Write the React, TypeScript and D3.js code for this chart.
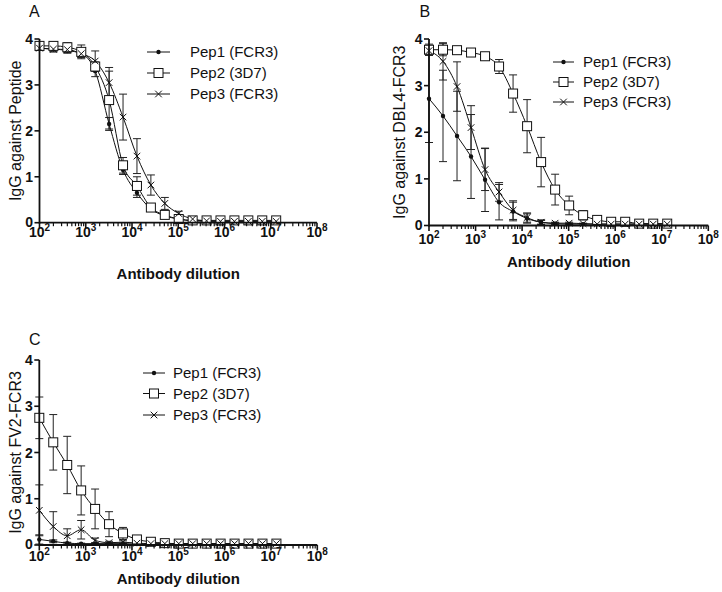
import React from "react";
import * as d3 from "d3";

// ---------- DATA ----------
const dilutions = [100, 200, 400, 800, 1600, 3200, 6400, 12800, 25600, 51200, 102400, 204800, 409600, 819200, 1638400, 3276800, 6553600, 13107200];
const seriesNames = ["Pep1 (FCR3)", "Pep2 (3D7)", "Pep3 (FCR3)"];
const xTickExps = [2, 3, 4, 5, 6, 7, 8];
const yTicks = [0, 1, 2, 3, 4];

// Panel A: IgG against Peptide
const pep1A = [3.80, 3.78, 3.75, 3.68, 3.30, 2.15, 1.15, 0.65, 0.30, 0.15, 0.08, 0.04, 0.03, 0.03, 0.03, 0.03, 0.03, 0.03];
const pep1A_sd = [0.05, 0.06, 0.06, 0.08, 0.12, 0.14, 0.10, 0.10, 0.05, 0.03, 0.02, 0.01, 0, 0, 0, 0, 0, 0];
const pep2A = [3.85, 3.85, 3.82, 3.72, 3.40, 2.67, 1.25, 0.80, 0.33, 0.17, 0.08, 0.05, 0.05, 0.05, 0.05, 0.05, 0.05, 0.05];
const pep2A_sd = [0.08, 0.08, 0.10, 0.15, 0.10, 0.63, 0.17, 0.20, 0.06, 0.04, 0.02, 0.01, 0, 0, 0, 0, 0, 0];
const pep3A = [3.80, 3.78, 3.77, 3.68, 3.52, 3.05, 2.30, 1.45, 0.82, 0.42, 0.20, 0.08, 0.04, 0.03, 0.03, 0.03, 0.03, 0.03];
const pep3A_sd = [0.05, 0.06, 0.06, 0.08, 0.22, 0.33, 0.50, 0.38, 0.22, 0.13, 0.05, 0.02, 0.01, 0, 0, 0, 0, 0];

// Panel B: IgG against DBL4-FCR3
const pep1B = [2.72, 2.35, 1.92, 1.48, 0.98, 0.50, 0.30, 0.15, 0.07, 0.04, 0.03, 0.03, 0.03, 0.03, 0.03, 0.03, 0.03, 0.03];
const pep1B_sd = [0.94, 0.98, 0.96, 0.90, 0.68, 0.38, 0.20, 0.10, 0.04, 0.02, 0.01, 0, 0, 0, 0, 0, 0, 0];
const pep2B = [3.77, 3.77, 3.76, 3.71, 3.63, 3.41, 2.83, 2.13, 1.36, 0.77, 0.43, 0.22, 0.12, 0.08, 0.08, 0.04, 0.04, 0.04];
const pep2B_sd = [0.12, 0.13, 0.05, 0.05, 0.05, 0.15, 0.40, 0.57, 0.53, 0.33, 0.20, 0.10, 0.05, 0.03, 0.03, 0.02, 0.02, 0.02];
const pep3B = [3.75, 3.52, 2.98, 2.10, 1.20, 0.72, 0.33, 0.17, 0.07, 0.05, 0.05, 0.04, 0.03, 0.03, 0.03, 0.03, 0.03, 0.03];
const pep3B_sd = [0.10, 0.40, 0.53, 0.47, 0.45, 0.20, 0.20, 0.10, 0.05, 0.02, 0.02, 0.01, 0, 0, 0, 0, 0, 0];

// Panel C: IgG against FV2-FCR3
const pep1C = [0.12, 0.08, 0.04, 0.03, 0.03, 0.03, 0.03, 0.02, 0.02, 0.02, 0.02, 0.02, 0.02, 0.02, 0.02, 0.02, 0.02, 0.02];
const pep1C_sd = [0.10, 0.03, 0.02, 0.01, 0.01, 0.01, 0.01, 0, 0, 0, 0, 0, 0, 0, 0, 0, 0, 0];
const pep2C = [2.75, 2.22, 1.73, 1.18, 0.78, 0.45, 0.25, 0.12, 0.07, 0.04, 0.03, 0.03, 0.03, 0.03, 0.03, 0.03, 0.03, 0.03];
const pep2C_sd = [0.45, 0.60, 0.62, 0.53, 0.43, 0.27, 0.13, 0.05, 0.02, 0.01, 0, 0, 0, 0, 0, 0, 0, 0];
const pep3C = [0.75, 0.40, 0.20, 0.33, 0.10, 0.05, 0.06, 0.04, 0.03, 0.03, 0.03, 0.03, 0.03, 0.03, 0.03, 0.03, 0.03, 0.03];
const pep3C_sd = [0.55, 0.32, 0.15, 0.20, 0.05, 0.03, 0.03, 0.01, 0, 0, 0, 0, 0, 0, 0, 0, 0, 0];

// ---------- LAYOUT ----------
const FONT = "'Liberation Sans', Arial, Helvetica, sans-serif";
const INK = "#111";

type Panel = {
  letter: string;
  ylabel: string;
  xr: [number, number];
  yr: [number, number];
  letterPos: [number, number];
  yLabelX: number;
  tickBase: number;
  xTitleBase: number;
  legend: { lx0: number; lx1: number; tx: number; ys: number[] };
  series: { v: number[]; sd: number[] }[];
};

const panels: Panel[] = [
  {
    letter: "A",
    ylabel: "IgG against Peptide",
    xr: [39.5, 317],
    yr: [222.7, 39],
    letterPos: [29, 17],
    yLabelX: 20.5,
    tickBase: 237,
    xTitleBase: 279,
    legend: { lx0: 147, lx1: 170, tx: 190, ys: [52, 73, 94] },
    series: [
      { v: pep1A, sd: pep1A_sd },
      { v: pep2A, sd: pep2A_sd },
      { v: pep3A, sd: pep3A_sd },
    ],
  },
  {
    letter: "B",
    ylabel: "IgG against DBL4-FCR3",
    xr: [429, 708.3],
    yr: [225.5, 39],
    letterPos: [419.5, 17],
    yLabelX: 405,
    tickBase: 244,
    xTitleBase: 267,
    legend: { lx0: 553, lx1: 574, tx: 583, ys: [62, 82, 102] },
    series: [
      { v: pep1B, sd: pep1B_sd },
      { v: pep2B, sd: pep2B_sd },
      { v: pep3B, sd: pep3B_sd },
    ],
  },
  {
    letter: "C",
    ylabel: "IgG against FV2-FCR3",
    xr: [39.3, 317.3],
    yr: [545, 360],
    letterPos: [29, 345],
    yLabelX: 20.5,
    tickBase: 561,
    xTitleBase: 584,
    legend: { lx0: 143, lx1: 165, tx: 173, ys: [373, 393.5, 415] },
    series: [
      { v: pep1C, sd: pep1C_sd },
      { v: pep2C, sd: pep2C_sd },
      { v: pep3C, sd: pep3C_sd },
    ],
  },
];

function Marker({ kind, x, y }: { kind: number; x: number; y: number }) {
  if (kind === 0) return <circle cx={x} cy={y} r={2.2} fill={INK} />;
  if (kind === 1)
    return <rect x={x - 4.5} y={y - 4.5} width={9} height={9} fill="#fff" stroke={INK} strokeWidth={1} />;
  const s = 3.3;
  return (
    <path d={`M${x - s},${y - s}L${x + s},${y + s}M${x - s},${y + s}L${x + s},${y - s}`} stroke={INK} strokeWidth={1} />
  );
}

function PanelView({ p }: { p: Panel }) {
  const x = d3.scaleLog().domain([1e2, 1e8]).range(p.xr);
  const y = d3.scaleLinear().domain([0, 4]).range(p.yr);
  const line = d3
    .line<number>()
    .x((_, i) => x(dilutions[i]))
    .y((d) => y(d))
    .curve(d3.curveMonotoneX);

  const minor: number[] = [];
  for (let e = 2; e < 8; e++) for (let m = 2; m <= 9; m++) minor.push(m * Math.pow(10, e));

  const xMid = (p.xr[0] + p.xr[1]) / 2;
  const yMid = (p.yr[0] + p.yr[1]) / 2;
  const cap = 4;

  return (
    <g fontFamily={FONT}>
      <text x={p.letterPos[0]} y={p.letterPos[1]} fontSize={16} fill={INK}>
        {p.letter}
      </text>

      {/* error bars */}
      {p.series.map((s, si) =>
        s.v.map((v, i) => {
          if (s.sd[i] <= 0) return null;
          const cx = x(dilutions[i]);
          const top = y(v + s.sd[i]);
          const bot = y(Math.max(0, v - s.sd[i]));
          return (
            <path
              key={`e${si}-${i}`}
              d={`M${cx},${top}L${cx},${bot}M${cx - cap},${top}L${cx + cap},${top}M${cx - cap},${bot}L${cx + cap},${bot}`}
              stroke="#222"
              strokeWidth={1}
              fill="none"
            />
          );
        })
      )}

      {/* curves */}
      {p.series.map((s, si) => (
        <path key={`l${si}`} d={line(s.v) || ""} fill="none" stroke={INK} strokeWidth={1} />
      ))}

      {/* markers */}
      {p.series.map((s, si) =>
        s.v.map((v, i) => <Marker key={`m${si}-${i}`} kind={si} x={x(dilutions[i])} y={y(v)} />)
      )}

      {/* axes */}
      <line x1={p.xr[0]} x2={p.xr[1]} y1={p.yr[0]} y2={p.yr[0]} stroke={INK} strokeWidth={1.8} />
      <line x1={p.xr[0]} x2={p.xr[0]} y1={p.yr[0] + 0.9} y2={p.yr[1]} stroke={INK} strokeWidth={1.8} />
      {minor.map((m) => (
        <line key={`mn${m}`} x1={x(m)} x2={x(m)} y1={p.yr[0]} y2={p.yr[0] + 3.5} stroke={INK} strokeWidth={1.2} />
      ))}
      {xTickExps.map((e) => {
        const tx = x(Math.pow(10, e));
        return (
          <g key={`xt${e}`}>
            <line x1={tx} x2={tx} y1={p.yr[0]} y2={p.yr[0] + 5.5} stroke={INK} strokeWidth={1.6} />
            <text x={tx} y={p.tickBase} textAnchor="middle" fontSize={14} fontWeight="bold" fill={INK}>
              10
              <tspan fontSize={10} dy={-6}>
                {e}
              </tspan>
            </text>
          </g>
        );
      })}
      {yTicks.map((t) => (
        <g key={`yt${t}`}>
          <line x1={p.xr[0] - 5} x2={p.xr[0]} y1={y(t)} y2={y(t)} stroke={INK} strokeWidth={1.6} />
          <text x={p.xr[0] - 6.5} y={y(t)} dy={t === 0 ? "0.3em" : "0.36em"} textAnchor="end" fontSize={14} fontWeight="bold" fill={INK}>
            {t}
          </text>
        </g>
      ))}

      {/* axis titles */}
      <text x={xMid} y={p.xTitleBase} textAnchor="middle" fontSize={15} fontWeight="bold" fill={INK}>
        Antibody dilution
      </text>
      <text
        transform={`translate(${p.yLabelX},${yMid}) rotate(-90)`}
        textAnchor="middle"
        fontSize={16}
        fill={INK}
      >
        {p.ylabel}
      </text>

      {/* legend */}
      {seriesNames.map((n, i) => {
        const ly = p.legend.ys[i];
        const lm = (p.legend.lx0 + p.legend.lx1) / 2;
        return (
          <g key={`lg${i}`}>
            <line x1={p.legend.lx0} x2={p.legend.lx1} y1={ly} y2={ly} stroke={INK} strokeWidth={1} />
            <Marker kind={i} x={lm} y={ly} />
            <text x={p.legend.tx} y={ly} dy="0.36em" fontSize={15} fill={INK}>
              {n}
            </text>
          </g>
        );
      })}
    </g>
  );
}

export default function App() {
  return (
    <svg
      width={722}
      height={592}
      viewBox="0 0 722 592"
      style={{ position: "absolute", left: 0, top: 0, background: "#fff" }}
    >
      <rect width={722} height={592} fill="#fff" />
      {panels.map((p) => (
        <PanelView key={p.letter} p={p} />
      ))}
    </svg>
  );
}
